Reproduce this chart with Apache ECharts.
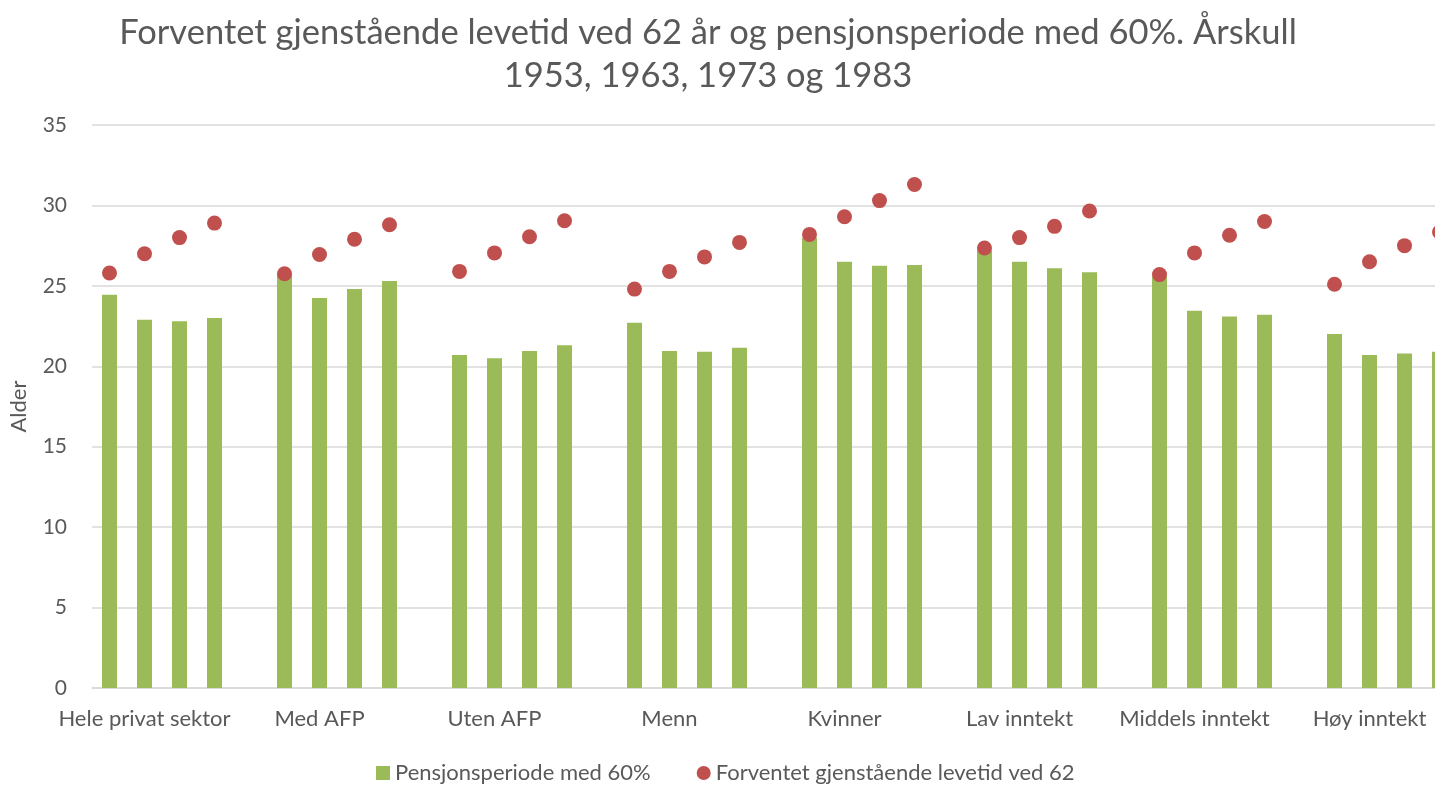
<!DOCTYPE html>
<html>
<head>
<meta charset="utf-8">
<script src="https://cdn.jsdelivr.net/npm/echarts@6/dist/echarts.min.js"></script>
<style>
  html, body { margin: 0; padding: 0; background: #fff; overflow: hidden; }
  /* diagrammet er bredere enn vinduet; høyre kant kuttes som i originalen */
  #container { width: 1500px; height: 785px; }
</style>
</head>
<body>
<div id="container"></div>
<script>
// grupper og verdier (årskull 1953, 1963, 1973, 1983)
const groups = ['Hele privat sektor', 'Med AFP', 'Uten AFP', 'Menn', 'Kvinner', 'Lav inntekt', 'Middels inntekt', 'Høy inntekt'];
const cohorts = ['1953', '1963', '1973', '1983'];
const pensjon = [
  [24.45, 22.9, 22.8, 23.0],
  [25.7, 24.25, 24.8, 25.3],
  [20.7, 20.5, 20.95, 21.3],
  [22.7, 20.95, 20.9, 21.15],
  [28.0, 26.5, 26.25, 26.3],
  [27.2, 26.5, 26.1, 25.85],
  [25.6, 23.45, 23.1, 23.2],
  [22.0, 20.7, 20.8, 20.9]
];
const levetid = [
  [25.8, 27.0, 28.0, 28.9],
  [25.75, 26.95, 27.9, 28.8],
  [25.9, 27.05, 28.05, 29.05],
  [24.8, 25.9, 26.8, 27.7],
  [28.2, 29.3, 30.3, 31.3],
  [27.35, 28.0, 28.7, 29.65],
  [25.7, 27.05, 28.15, 29.0],
  [25.1, 26.5, 27.5, 28.35]
];
const yTicks = [0, 5, 10, 15, 20, 25, 30, 35];

// 5 plasser per gruppe: 4 årskull + ett tomrom
let cats = [], barData = [], dotData = [];
groups.forEach((g, i) => {
  cohorts.forEach((c, j) => {
    cats.push(j === 1 ? g : '');
    barData.push(pensjon[i][j]);
    dotData.push(levetid[i][j]);
  });
  cats.push('');
  barData.push('-');
  dotData.push('-');
});

const txt = '#595959';
const font = 'Lato, "Open Sans", sans-serif';

let chart = echarts.init(document.querySelector('#container'));
chart.setOption({
  animation: false,
  textStyle: { fontFamily: font },
  title: {
    text: 'Forventet gjenstående levetid ved 62 år og pensjonsperiode med 60%. Årskull\n1953, 1963, 1973 og 1983',
    left: 703,
    top: 6,
    textAlign: 'center',
    textStyle: { fontFamily: font, fontSize: 34.5, fontWeight: 'normal', color: txt, lineHeight: 43 }
  },
  legend: {
    top: 762,
    left: 376,
    padding: 0,
    itemWidth: 14,
    itemHeight: 14,
    itemGap: 46,
    textStyle: { fontFamily: font, fontSize: 22, color: txt },
    data: [
      { name: 'Pensjonsperiode med 60%', icon: 'rect' },
      { name: 'Forventet gjenstående levetid ved 62', icon: 'circle' }
    ]
  },
  grid: { left: 92, top: 125, bottom: 97, right: 8 },
  xAxis: {
    type: 'category',
    data: cats,
    axisLine: { lineStyle: { color: '#d9d9d9', width: 1.5 } },
    axisTick: { show: false },
    axisLabel: { interval: 0, color: txt, fontSize: 22, margin: 20, fontFamily: font }
  },
  yAxis: {
    type: 'value',
    min: yTicks[0],
    max: yTicks[yTicks.length - 1],
    interval: 5,
    name: 'Alder',
    nameLocation: 'middle',
    nameGap: 62,
    nameTextStyle: { color: txt, fontSize: 22, fontFamily: font },
    axisLine: { show: false },
    axisTick: { show: false },
    axisLabel: { color: txt, fontSize: 21, margin: 25, fontFamily: font },
    splitLine: { lineStyle: { color: '#d9d9d9', width: 1.5 } }
  },
  series: [
    {
      name: 'Pensjonsperiode med 60%',
      type: 'bar',
      data: barData,
      barWidth: 15,
      itemStyle: { color: '#9bbb59' }
    },
    {
      name: 'Forventet gjenstående levetid ved 62',
      type: 'scatter',
      data: dotData,
      symbol: 'circle',
      symbolSize: 15,
      itemStyle: { color: '#c0504d', opacity: 1 }
    }
  ]
});
</script>
</body>
</html>
